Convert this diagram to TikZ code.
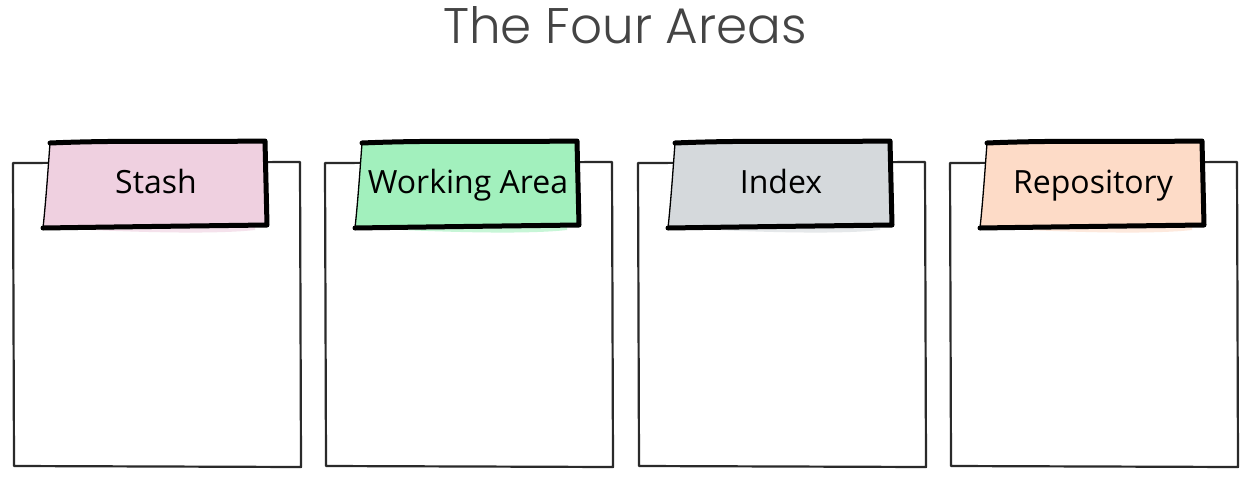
\documentclass[tikz,border=0pt]{standalone}
\usepackage{fontspec}
\newfontfamily\titlefont{Poppins Light}
\newfontfamily\labelfont{Open Sans}
\definecolor{stashc}{HTML}{EFD0E0}
\definecolor{workc}{HTML}{A2F0BD}
\definecolor{indexc}{HTML}{D5D9DC}
\definecolor{repoc}{HTML}{FDDBC7}
\definecolor{boxc}{HTML}{2A2A2A}
\definecolor{titlec}{HTML}{444444}
\tikzset{
  boxline/.style={draw=boxc, line width=2.2pt, line join=round},
  tabthick/.style={draw=black, line width=5pt, line cap=round, line join=round},
  tabthin/.style={draw=black, line width=1.3pt, line cap=round},
  tablabel/.style={font=\labelfont\fontsize{32}{36}\selectfont, text=black, inner sep=0pt, anchor=base},
}
\newcommand{\areacol}[4]{%
  \begin{scope}[xshift=#1]
    \draw[boxline] (13,163) -- (300,162) -- (301,467) -- (14,466) -- cycle;
    \fill[#2, opacity=0.6] (70,229) .. controls (150,233) and (220,234) .. (255,230) -- (255,224) -- (70,224) -- cycle;
    \fill[#2] (50,143) .. controls (120,140) and (190,142) .. (265,141) -- (267,225) -- (43,228) -- cycle;
    \draw[tabthick] (50,143) .. controls (120,140) and (190,142) .. (265,141) -- (267,225) .. controls (190,226) and (110,227) .. (43,228);
    \draw[tabthin] (43,228) .. controls (46,200) and (48,170) .. (50,143);
    \node[tablabel] (#4) at (156,193) {#3};
  \end{scope}}
\begin{document}
\begin{tikzpicture}[x=1pt,y=-1pt]
  \useasboundingbox (0,0) rectangle (1251,477);
  \fill[white] (0,0) rectangle (1251,477);
  \node[font=\titlefont\fontsize{50}{56}\selectfont, text=titlec, anchor=base, inner sep=0pt] (title) at (625,43) {The Four Areas};
  \areacol{0pt}{stashc}{Stash}{stash}
  \areacol{312pt}{workc}{Working Area}{work}
  \areacol{625pt}{indexc}{Index}{index}
  \areacol{937pt}{repoc}{Repository}{repo}
\end{tikzpicture}
\end{document}
